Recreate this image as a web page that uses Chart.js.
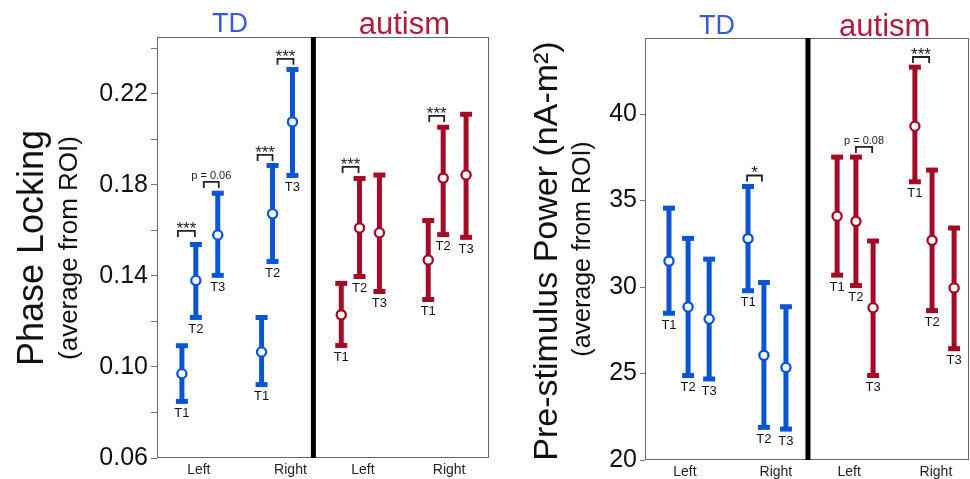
<!DOCTYPE html>
<html>
<head>
<meta charset="utf-8">
<script src="https://cdn.jsdelivr.net/npm/chart.js@4.4.0/dist/chart.umd.min.js"></script>
<style>
body { margin: 0; background: #fff; }
#wrap { position: relative; width: 970px; height: 479px; }
.panel { position: absolute; top: 0; }
#p1 { left: 0; }
#p2 { left: 490px; }
</style>
</head>
<body>
<div id="wrap">
  <div class="panel" id="p1"><canvas id="phaseChart" width="490" height="479"></canvas></div>
  <div class="panel" id="p2"><canvas id="powerChart" width="480" height="479"></canvas></div>
</div>
<script>
const BLUE = '#0b55d4';
const RED = '#a20c26';
const FONT = '"Liberation Sans", Arial, sans-serif';

const timeTags = ['T1', 'T2', 'T3', 'T1', 'T2', 'T3'];
const hemiLabels = ['Left', 'Right', 'Left', 'Right'];

// Phase locking (left panel)
const phaseXTicks = [1.26, 4.02, 6.2, 8.8];
const phaseYTicks = [0.06, 0.08, 0.10, 0.12, 0.14, 0.16, 0.18, 0.20, 0.22, 0.24];
const phaseYLabels = ['0.06', '', '0.10', '', '0.14', '', '0.18', '', '0.22', ''];
const phaseX_TD = [0.75, 1.17, 1.83, 3.15, 3.48, 4.08];
const phaseMean_TD = [0.097, 0.138, 0.158, 0.1066, 0.1673, 0.2077];
const phaseLo_TD = [0.0842, 0.1211, 0.1396, 0.0916, 0.1457, 0.1835];
const phaseHi_TD = [0.110, 0.1545, 0.177, 0.1224, 0.1892, 0.2314];
const phaseX_AUT = [5.55, 6.1, 6.7, 8.17, 8.62, 9.31];
const phaseMean_AUT = [0.1229, 0.1611, 0.159, 0.147, 0.183, 0.1844];
const phaseLo_AUT = [0.1088, 0.1391, 0.1325, 0.129, 0.1575, 0.1563];
const phaseHi_AUT = [0.1374, 0.1835, 0.185, 0.165, 0.206, 0.2117];
// [x1, x2, y, text]
const phaseBrackets = [
    [0.63, 1.14, 0.1598, '***'],
    [1.41, 1.86, 0.1813, 'p = 0.06'],
    [3.03, 3.48, 0.1932, '***'],
    [3.63, 4.11, 0.2354, '***'],
    [5.59, 6.07, 0.1879, '***'],
    [8.2, 8.65, 0.2103, '***']
];

// Pre-stimulus power (right panel)
const powerXTicks = [1.23, 4.04, 6.3, 8.98];
const powerYTicks = [20, 25, 30, 35, 40];
const powerYLabels = ['20', '25', '30', '35', '40'];
const powerX_TD = [0.74, 1.33, 1.98, 3.18, 3.67, 4.35];
const powerMean_TD = [31.5, 28.85, 28.15, 32.8, 26.05, 25.35];
const powerLo_TD = [28.4, 24.8, 24.6, 29.7, 21.8, 21.7];
const powerHi_TD = [34.65, 32.9, 31.7, 35.9, 30.35, 28.95];
const powerX_AUT = [5.93, 6.51, 7.04, 8.33, 8.86, 9.54];
const powerMean_AUT = [34.1, 33.8, 28.8, 39.3, 32.7, 29.95];
const powerLo_AUT = [30.6, 30.0, 24.8, 36.0, 28.55, 26.35];
const powerHi_AUT = [37.6, 37.6, 32.75, 42.8, 36.85, 33.5];
const powerBrackets = [
    [3.15, 3.61, 36.45, '*'],
    [6.51, 7.01, 38.1, 'p = 0.08'],
    [8.27, 8.77, 43.3, '***']
];

const errorBarPlugin = {
    id: 'errorBars',
    beforeDatasetsDraw(chart, args, opts) {
        const { ctx, chartArea: a, scales: { x, y } } = chart;
        ctx.save();
        ctx.strokeStyle = '#666';
        ctx.lineWidth = 1;
        ctx.strokeRect(a.left + 0.5, a.top + 0.5, a.right - a.left - 1, a.bottom - a.top - 1);

        const dx = x.getPixelForValue(opts.divider);
        ctx.strokeStyle = '#000';
        ctx.lineWidth = 5;
        ctx.beginPath();
        ctx.moveTo(dx, a.top);
        ctx.lineTo(dx, a.bottom);
        ctx.stroke();

        chart.data.datasets.forEach(ds => {
            ds.data.forEach((p, i) => {
                const px = x.getPixelForValue(p.x);
                const lo = y.getPixelForValue(ds.lo[i]);
                const hi = y.getPixelForValue(ds.hi[i]);
                ctx.strokeStyle = ds.borderColor;
                ctx.fillStyle = ds.borderColor;
                ctx.lineWidth = 5;
                ctx.beginPath();
                ctx.moveTo(px, lo);
                ctx.lineTo(px, hi);
                ctx.stroke();
                ctx.fillRect(px - 6, hi - 1, 12, 5);
                ctx.fillRect(px - 6, lo - 4, 12, 5);
                ctx.fillStyle = '#111';
                ctx.font = '13px ' + FONT;
                ctx.textAlign = 'center';
                ctx.textBaseline = 'top';
                ctx.fillText(ds.tags[i], px, lo + 4);
            });
        });
        ctx.restore();
    },
    afterDraw(chart, args, opts) {
        const { ctx, chartArea: a, scales: { x, y } } = chart;
        ctx.save();
        // significance brackets
        ctx.strokeStyle = '#222';
        ctx.fillStyle = '#222';
        ctx.lineWidth = 1.8;
        opts.brackets.forEach(b => {
            const x1 = x.getPixelForValue(b[0]);
            const x2 = x.getPixelForValue(b[1]);
            const yy = y.getPixelForValue(b[2]);
            ctx.beginPath();
            ctx.moveTo(x1, yy + 6);
            ctx.lineTo(x1, yy);
            ctx.lineTo(x2, yy);
            ctx.lineTo(x2, yy + 6);
            ctx.stroke();
            ctx.textAlign = 'center';
            ctx.textBaseline = 'alphabetic';
            if (b[3].startsWith('p')) {
                ctx.font = '11px ' + FONT;
                ctx.fillText(b[3], (x1 + x2) / 2, yy - 3);
            } else {
                ctx.font = '17px ' + FONT;
                ctx.fillText(b[3], (x1 + x2) / 2, yy + 3);
            }
        });
        // group titles
        ctx.textAlign = 'center';
        ctx.textBaseline = 'middle';
        opts.groups.forEach(g => {
            ctx.font = g.size + 'px ' + FONT;
            ctx.fillStyle = g.color;
            ctx.fillText(g.text, x.getPixelForValue(g.x), a.top - opts.groupGap);
        });
        // y titles
        ctx.fillStyle = '#111';
        ctx.textBaseline = 'alphabetic';
        opts.yTitles.forEach(t => {
            ctx.save();
            ctx.translate(t.x, t.y);
            ctx.rotate(-Math.PI / 2);
            ctx.font = t.size + 'px ' + FONT;
            ctx.fillText(t.text, 0, 0);
            ctx.restore();
        });
        ctx.restore();
    }
};

function makeSeries(xs, means, lo, hi, color) {
    return {
        data: xs.map((v, i) => ({ x: v, y: means[i] })),
        lo: lo,
        hi: hi,
        tags: timeTags,
        borderColor: color,
        backgroundColor: '#fff',
        pointBackgroundColor: '#fff',
        pointBorderColor: color,
        pointBorderWidth: 2.3,
        pointRadius: 4.6,
        showLine: false
    };
}

function noPad(s) {
    s.paddingLeft = 0;
    s.paddingRight = 0;
    s.paddingTop = 0;
    s.paddingBottom = 0;
}

function makeChart(id, cfg) {
    return new Chart(document.getElementById(id).getContext('2d'), {
        type: 'scatter',
        data: { datasets: cfg.datasets },
        plugins: [errorBarPlugin],
        options: {
            responsive: false,
            animation: false,
            layout: { autoPadding: false, padding: { top: cfg.top, right: 1, left: 0, bottom: 0 } },
            plugins: {
                legend: { display: false },
                tooltip: { enabled: false },
                errorBars: cfg.plugin
            },
            scales: {
                x: {
                    type: 'linear',
                    min: 0,
                    max: 10,
                    afterBuildTicks: s => { s.ticks = cfg.xTicks.map(v => ({ value: v })); },
                    afterFit: s => { s.height = cfg.xHeight; noPad(s); },
                    grid: { display: false, drawTicks: false },
                    border: { display: false },
                    ticks: {
                        autoSkip: false,
                        maxRotation: 0,
                        padding: 4,
                        color: '#222',
                        font: { size: 14, family: FONT },
                        callback: (v, i) => hemiLabels[i]
                    }
                },
                y: {
                    min: cfg.yMin,
                    max: cfg.yMax,
                    afterBuildTicks: s => { s.ticks = cfg.yTicks.map(v => ({ value: v })); },
                    afterFit: s => { s.width = cfg.yWidth; noPad(s); },
                    grid: { drawOnChartArea: false, tickLength: cfg.tickLen, color: '#777' },
                    border: { display: false },
                    ticks: {
                        autoSkip: false,
                        padding: 3,
                        color: '#111',
                        font: { size: 25, family: FONT },
                        callback: (v, i) => cfg.yLabels[i]
                    }
                }
            }
        }
    });
}

makeChart('phaseChart', {
    datasets: [
        makeSeries(phaseX_TD, phaseMean_TD, phaseLo_TD, phaseHi_TD, BLUE),
        makeSeries(phaseX_AUT, phaseMean_AUT, phaseLo_AUT, phaseHi_AUT, RED)
    ],
    top: 37, xHeight: 21, yWidth: 157, tickLen: 6,
    yMin: 0.06, yMax: 0.245,
    xTicks: phaseXTicks, yTicks: phaseYTicks, yLabels: phaseYLabels,
    plugin: {
        divider: 4.71,
        brackets: phaseBrackets,
        groupGap: 12,
        groups: [
            { text: 'TD', x: 2.2, color: '#3a5bd6', size: 27 },
            { text: 'autism', x: 7.45, color: '#b31a3b', size: 31 }
        ],
        yTitles: [
            { text: 'Phase Locking', x: 43, y: 248, size: 36 },
            { text: '(average from ROI)', x: 77, y: 248, size: 26 }
        ]
    }
});

makeChart('powerChart', {
    datasets: [
        makeSeries(powerX_TD, powerMean_TD, powerLo_TD, powerHi_TD, BLUE),
        makeSeries(powerX_AUT, powerMean_AUT, powerLo_AUT, powerHi_AUT, RED)
    ],
    top: 38, xHeight: 19, yWidth: 155, tickLen: 5,
    yMin: 20, yMax: 44.4,
    xTicks: powerXTicks, yTicks: powerYTicks, yLabels: powerYLabels,
    plugin: {
        divider: 5.03,
        brackets: powerBrackets,
        groupGap: 11,
        groups: [
            { text: 'TD', x: 2.22, color: '#3a5bd6', size: 27 },
            { text: 'autism', x: 7.4, color: '#b31a3b', size: 31 }
        ],
        yTitles: [
            { text: 'Pre-stimulus Power (nA-m²)', x: 67, y: 251, size: 34 },
            { text: '(average from ROI)', x: 100, y: 249, size: 25 }
        ]
    }
});
</script>
</body>
</html>
